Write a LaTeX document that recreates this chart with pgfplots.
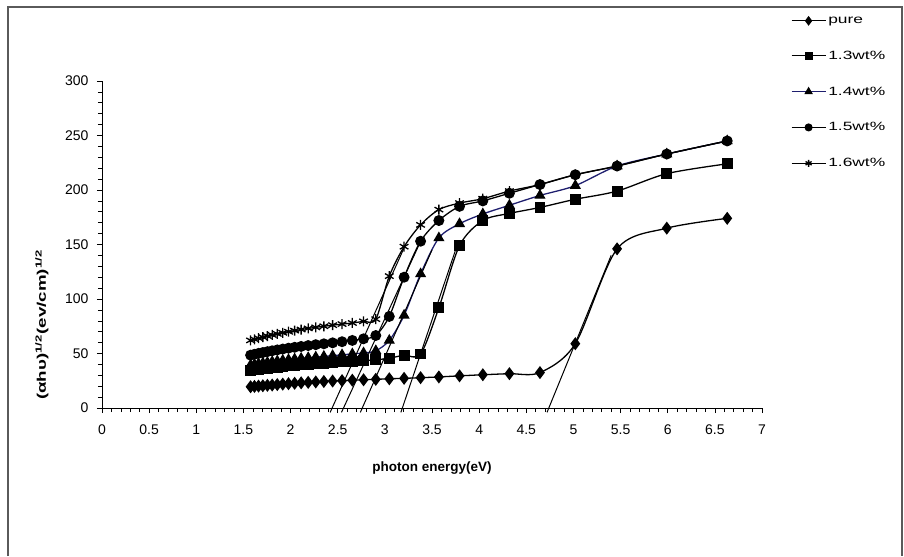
\documentclass[border=0pt]{standalone}
\usepackage{fontspec}
\setmainfont{Liberation Sans}
\usepackage{pgfplots}
\pgfplotsset{compat=1.18}
\definecolor{navyline}{RGB}{30,30,110}
\definecolor{framegray}{RGB}{90,90,90}

\begin{document}
\begin{tikzpicture}
% frame and page size (1px = 1pt)
\path (-102pt,-148pt) rectangle (802pt,408pt);
\draw[framegray, line width=1.5pt] (-94pt,-148pt) -- (-94pt,401pt) -- (800pt,401pt) -- (800pt,-148pt);
\begin{axis}[
	at={(0pt,0pt)}, anchor=south west,
	scale only axis, width=660pt, height=327pt,
	xmin=0, xmax=7, ymin=0, ymax=300,
	xtick distance=0.5, ytick distance=50,
	minor tick num=4,
	axis lines*=left,
	tick align=outside,
	major tick length=5pt, minor tick length=4pt,
	every tick/.style={black, line width=0.6pt},
	axis line style={black, line width=0.8pt},
	clip=false,
	ticklabel style={font=\fontsize{14}{16}\selectfont},
	xticklabel style={yshift=-8pt},
	yticklabel style={xshift=-5pt},
	/pgf/number format/assume math mode=true,
	xlabel={\bfseries photon energy(eV)},
	ylabel={\scalebox{1.5}[1]{\bfseries (αhυ)\textsuperscript{1/2}(ev/cm)\textsuperscript{1/2}}},
	xlabel style={font=\fontsize{13.5}{15}\selectfont, at={(axis description cs:0.5,-0.183)}, anchor=center},
	ylabel style={font=\fontsize{12.5}{14}\selectfont, at={(axis description cs:-0.091,0.254)}, anchor=center},
	legend style={at={(axis description cs:1.039,1.209)}, anchor=north west,
		draw=none, fill=none, font=\fontsize{12}{14}\selectfont, row sep=22pt},
	legend cell align=left,
	legend image code/.code={
		\draw[mark repeat=2, mark phase=2, #1, every mark/.append style={scale=0.7}]
		plot coordinates {(0pt,0pt) (17pt,0pt) (34pt,0pt)};
	},
	every axis plot/.append style={line width=1.3pt, smooth},
]
% pure
\addplot[black, mark=diamond*, mark size=5.5pt, mark options={fill=black}] coordinates {
(1.576,19.5) (1.617,19.8) (1.660,20.1) (1.706,20.4) (1.754,20.8) (1.805,21.1) (1.859,21.5) (1.917,21.9)
(1.978,22.3) (2.043,22.7) (2.112,23.1) (2.187,23.5) (2.267,23.9) (2.353,24.3) (2.446,24.7) (2.546,25.1)
(2.655,25.5) (2.774,25.9) (2.904,26.3) (3.047,26.8) (3.204,27.2) (3.379,27.8) (3.573,28.5) (3.792,29.5)
(4.039,30.5) (4.321,31.5) (4.645,32.5) (5.020,59) (5.463,146) (5.990,165) (6.631,174)
};
% 1.3wt%
\addplot[black, mark=square*, mark size=4.8pt, mark options={fill=black}] coordinates {
(1.576,34.5) (1.617,35.0) (1.660,35.5) (1.706,36.0) (1.754,36.5) (1.805,37.0) (1.859,37.5) (1.917,38.0)
(1.978,38.5) (2.043,39.0) (2.112,39.5) (2.187,40.0) (2.267,40.5) (2.353,41.0) (2.446,41.6) (2.546,42.2)
(2.655,42.8) (2.774,43.5) (2.904,44.3) (3.047,45.6) (3.204,48.5) (3.379,49.5) (3.573,92) (3.792,149)
(4.039,172) (4.321,178.5) (4.645,184) (5.020,191.5) (5.463,199) (5.990,215) (6.631,224)
};
% 1.4wt%
\addplot[navyline, mark=triangle*, mark size=5.2pt, mark options={fill=black, draw=black}] coordinates {
(1.576,39.5) (1.617,40.1) (1.660,40.7) (1.706,41.3) (1.754,41.9) (1.805,42.5) (1.859,43.1) (1.917,43.7)
(1.978,44.3) (2.043,44.9) (2.112,45.5) (2.187,46.1) (2.267,46.7) (2.353,47.3) (2.446,48.0) (2.546,48.8)
(2.655,49.6) (2.774,50.5) (2.904,52.5) (3.047,62) (3.204,85) (3.379,123) (3.573,156) (3.792,169)
(4.039,178) (4.321,186) (4.645,195) (5.020,204) (5.463,222) (5.990,233) (6.631,245)
};
% 1.5wt%
\addplot[black, mark=*, mark size=4.8pt, mark options={fill=black}] coordinates {
(1.576,48.5) (1.617,49.3) (1.660,50.1) (1.706,50.9) (1.754,51.7) (1.805,52.5) (1.859,53.3) (1.917,54.1)
(1.978,54.9) (2.043,55.7) (2.112,56.5) (2.187,57.3) (2.267,58.1) (2.353,58.9) (2.446,59.8) (2.546,60.8)
(2.655,62.0) (2.774,63.5) (2.904,66.5) (3.047,84) (3.204,120) (3.379,153) (3.573,172) (3.792,185)
(4.039,190) (4.321,197) (4.645,205) (5.020,214) (5.463,222) (5.990,233) (6.631,245)
};
% 1.6wt%
\addplot[black, mark=asterisk, mark size=5pt, mark options={line width=1.3pt}] coordinates {
(1.576,62) (1.617,63) (1.660,64) (1.706,65) (1.754,66) (1.805,67) (1.859,68) (1.917,69)
(1.978,70) (2.043,71) (2.112,72) (2.187,73) (2.267,74) (2.353,75) (2.446,76) (2.546,77)
(2.655,78) (2.774,79.5) (2.904,81.5) (3.047,121) (3.204,148) (3.379,168) (3.573,182) (3.792,188)
(4.039,192) (4.321,199) (4.645,205) (5.020,214) (5.463,222) (5.990,233) (6.631,245)
};
% extrapolated band-gap lines
\addplot[black, line width=1pt, no marks, sharp plot, forget plot] coordinates {(2.42,-4) (3.22,150)};
\addplot[black, line width=1pt, no marks, sharp plot, forget plot] coordinates {(2.54,-4) (3.38,153)};
\addplot[black, line width=1pt, no marks, sharp plot, forget plot] coordinates {(2.74,-4) (3.50,145)};
\addplot[black, line width=1pt, no marks, sharp plot, forget plot] coordinates {(3.17,-4) (3.75,145)};
\addplot[black, line width=1pt, no marks, sharp plot, forget plot] coordinates {(4.72,-4) (5.40,140)};
\legend{\scalebox{1.45}[1]{pure}, \scalebox{1.45}[1]{1.3wt\%}, \scalebox{1.45}[1]{1.4wt\%},
	\scalebox{1.45}[1]{1.5wt\%}, \scalebox{1.45}[1]{1.6wt\%}}
\end{axis}
\end{tikzpicture}
\end{document}
